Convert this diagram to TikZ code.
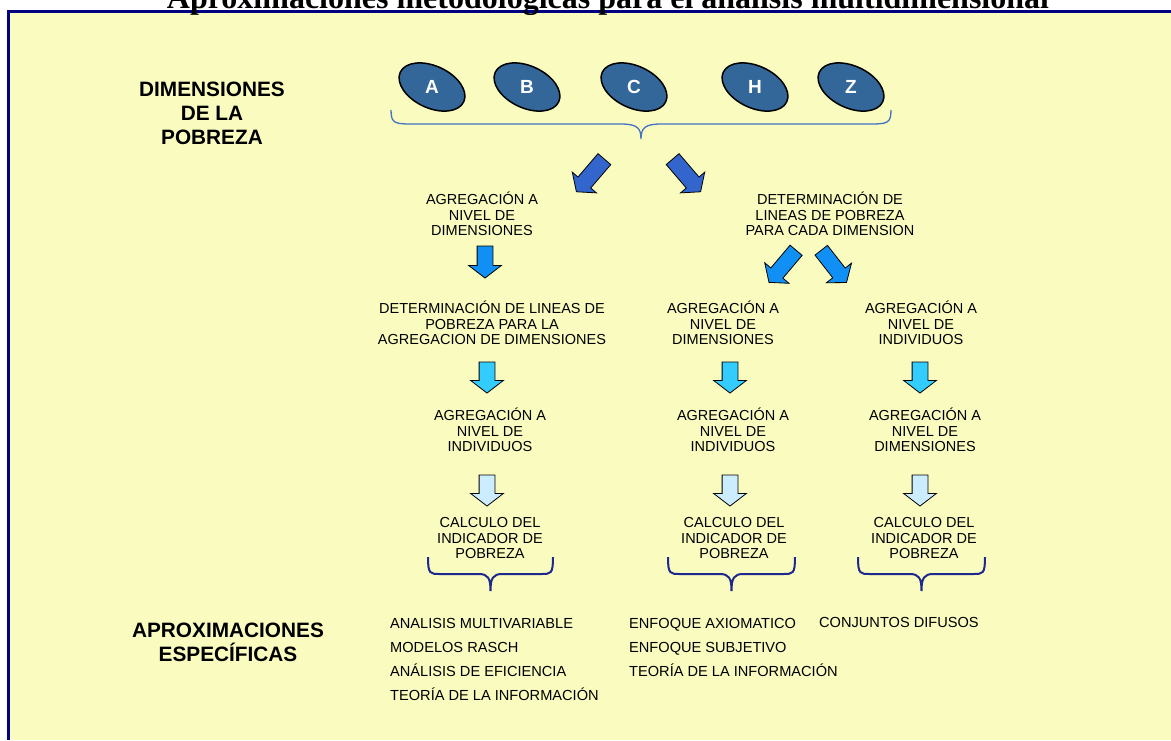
\documentclass[tikz,border=0pt]{standalone}
\usepackage{fontspec}
\setmainfont{Liberation Sans}
\newfontfamily\titlefont{Liberation Serif}
\usetikzlibrary{shapes.geometric,shapes.arrows}
\definecolor{bgyellow}{RGB}{249,251,191}
\definecolor{framenavy}{RGB}{0,0,128}
\definecolor{ellblue}{RGB}{51,102,153}
\definecolor{bracelight}{RGB}{68,114,196}
\definecolor{bracedark}{RGB}{31,40,140}
\definecolor{arrowA}{RGB}{51,102,204}
\definecolor{arrowB}{RGB}{16,144,244}
\definecolor{arrowC}{RGB}{51,204,255}
\definecolor{arrowD}{RGB}{204,236,255}
\begin{document}
\begin{tikzpicture}[x=1pt,y=1pt,
  dimell/.style={ellipse, draw=black, line width=1.5pt, fill=ellblue, minimum width=70pt, minimum height=42pt, inner sep=0pt},
  dimtxt/.style={text=white, font=\fontsize{19}{21}\selectfont\bfseries, inner sep=0pt},
  blockarrow/.style={single arrow, draw=black, line width=0.8pt, inner xsep=0pt, inner ysep=7.5pt, single arrow tip angle=105, single arrow head extend=8pt, minimum width=31pt, minimum height=#1},
  lbl/.style={align=center, font=\fontsize{14.5}{15.5}\selectfont, inner sep=0pt},
  bigl/.style={align=center, font=\fontsize{20.8}{24}\selectfont\bfseries, inner sep=0pt},
  item/.style={anchor=base west, font=\fontsize{14.6}{16}\selectfont, inner sep=0pt},
  bracetop/.style={draw=bracelight, line width=1.3pt},
  bracelow/.style={draw=bracedark, line width=2pt}
]
\useasboundingbox (0,0) rectangle (1171,-740);
\fill[white] (0,0) rectangle (1171,-740);
% frame
\fill[bgyellow] (8.5,-11.5) rectangle (1171,-740);
\draw[framenavy, line width=3pt] (8.5,-740) -- (8.5,-11.5) -- (1171,-11.5);
% title (cut by the page top, as in the reference)
\node[font=\titlefont\fontsize{32}{34}\selectfont\bfseries, anchor=base, inner sep=0pt] (title) at (608,-8) {Aproximaciones metodológicas para el análisis multidimensional};

% left labels
\node[bigl] (dimlbl) at (212,-113) {DIMENSIONES\\DE LA\\POBREZA};
\node[bigl] (aprlbl) at (228,-642) {APROXIMACIONES\\ESPECÍFICAS};

% dimension ellipses
\node[dimell, rotate=-25] (eA) at (432,-87) {};
\node[dimell, rotate=-25] (eB) at (527,-87) {};
\node[dimell, rotate=-25] (eC) at (634,-87) {};
\node[dimell, rotate=-25] (eH) at (755,-87) {};
\node[dimell, rotate=-25] (eZ) at (851,-87) {};
\node[dimtxt] (tA) at (eA) {A};
\node[dimtxt] (tB) at (eB) {B};
\node[dimtxt] (tC) at (eC) {C};
\node[dimtxt] (tH) at (eH) {H};
\node[dimtxt] (tZ) at (eZ) {Z};

% top brace
\draw[bracetop] (391,-110) .. controls (391,-124) and (395,-124) .. (415,-124) -- (621,-124) .. controls (637,-124) and (641,-128) .. (641,-139) .. controls (641,-128) and (645,-124) .. (661,-124) -- (867,-124) .. controls (887,-124) and (891,-124) .. (891,-110);

% diagonal arrows
\node[blockarrow=43pt, fill=arrowA, rotate=229.4, inner ysep=8pt, single arrow head extend=7.5pt] (dA1) at (592.5,-173) {};
\node[blockarrow=43pt, fill=arrowA, rotate=-49.4, inner ysep=8pt, single arrow head extend=7.5pt] (dA2) at (684.5,-173) {};

% texts row 1
\node[lbl] (t1) at (482,-214) {AGREGACIÓN A\\NIVEL DE\\DIMENSIONES};
\node[lbl] (t2) at (830,-214) {DETERMINACIÓN DE\\LINEAS DE POBREZA\\PARA CADA DIMENSION};

% arrows row 1
\node[blockarrow=32pt, fill=arrowB, rotate=-90, minimum width=32pt, single arrow head extend=8.5pt] (a1) at (485,-259) {};
\node[blockarrow=42pt, fill=arrowB, rotate=229.8] (dB1) at (784.5,-264) {};
\node[blockarrow=41pt, fill=arrowB, rotate=-52] (dB2) at (832,-264) {};

% texts row 2
\node[lbl] (t3) at (492,-323) {DETERMINACIÓN DE LINEAS DE\\POBREZA PARA LA\\AGREGACION DE DIMENSIONES};
\node[lbl] (t4) at (723,-323) {AGREGACIÓN A\\NIVEL DE\\DIMENSIONES};
\node[lbl] (t5) at (921,-323) {AGREGACIÓN A\\NIVEL DE\\INDIVIDUOS};

% arrows row 2
\node[blockarrow=31pt, fill=arrowC, rotate=-90, minimum width=32pt, single arrow head extend=8.5pt] (a21) at (487,-374.5) {};
\node[blockarrow=31pt, fill=arrowC, rotate=-90, minimum width=32pt, single arrow head extend=8.5pt] (a22) at (730,-374.5) {};
\node[blockarrow=31pt, fill=arrowC, rotate=-90, minimum width=32pt, single arrow head extend=8.5pt] (a23) at (920,-374.5) {};

% texts row 3
\node[lbl] (t6) at (490,-430) {AGREGACIÓN A\\NIVEL DE\\INDIVIDUOS};
\node[lbl] (t7) at (733,-430) {AGREGACIÓN A\\NIVEL DE\\INDIVIDUOS};
\node[lbl] (t8) at (925,-430) {AGREGACIÓN A\\NIVEL DE\\DIMENSIONES};

% arrows row 3
\node[blockarrow=31pt, fill=arrowD, rotate=-90, minimum width=32pt, single arrow head extend=8.5pt] (a31) at (487,-487.5) {};
\node[blockarrow=31pt, fill=arrowD, rotate=-90, minimum width=32pt, single arrow head extend=8.5pt] (a32) at (730,-487.5) {};
\node[blockarrow=31pt, fill=arrowD, rotate=-90, minimum width=32pt, single arrow head extend=8.5pt] (a33) at (920,-487.5) {};

% texts row 4
\node[lbl] (t9) at (490,-538) {CALCULO DEL\\INDICADOR DE\\POBREZA};
\node[lbl] (t10) at (734,-538) {CALCULO DEL\\INDICADOR DE\\POBREZA};
\node[lbl] (t11) at (924,-538) {CALCULO DEL\\INDICADOR DE\\POBREZA};

% lower braces
\draw[bracelow] (428,-557) .. controls (428,-574) and (430,-574) .. (440,-574) -- (478.5,-574) .. controls (488,-574) and (490.5,-578) .. (490.5,-591) .. controls (490.5,-578) and (493,-574) .. (502.5,-574) -- (541,-574) .. controls (551,-574) and (553,-574) .. (553,-557);
\draw[bracelow] (668,-557) .. controls (668,-574) and (670,-574) .. (680,-574) -- (719.5,-574) .. controls (729,-574) and (731.5,-578) .. (731.5,-591) .. controls (731.5,-578) and (734,-574) .. (743.5,-574) -- (783,-574) .. controls (793,-574) and (795,-574) .. (795,-557);
\draw[bracelow] (858,-557) .. controls (858,-574) and (860,-574) .. (870,-574) -- (909.5,-574) .. controls (919,-574) and (921.5,-578) .. (921.5,-591) .. controls (921.5,-578) and (924,-574) .. (933.5,-574) -- (973,-574) .. controls (983,-574) and (985,-574) .. (985,-557);

% specific approaches
\node[item] (l1) at (390,-628) {ANALISIS MULTIVARIABLE};
\node[item] (l2) at (390,-652) {MODELOS RASCH};
\node[item] (l3) at (390,-676) {ANÁLISIS DE EFICIENCIA};
\node[item] (l4) at (390,-700) {TEORÍA DE LA INFORMACIÓN};
\node[item] (m1) at (629,-628) {ENFOQUE AXIOMATICO};
\node[item] (m2) at (629,-652) {ENFOQUE SUBJETIVO};
\node[item] (m3) at (629,-676) {TEORÍA DE LA INFORMACIÓN};
\node[item] (r1) at (819,-627) {CONJUNTOS DIFUSOS};
\end{tikzpicture}
\end{document}
